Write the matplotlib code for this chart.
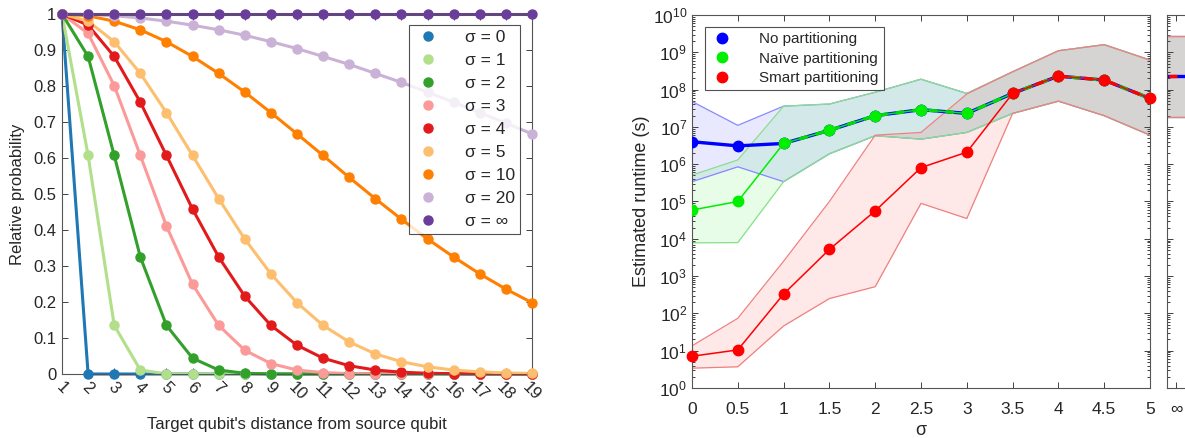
import numpy as np
import matplotlib
matplotlib.use("Agg")
import matplotlib.pyplot as plt
from matplotlib.ticker import LogLocator, NullFormatter

plt.rcParams['font.family'] = ['Liberation Sans', 'DejaVu Sans']
plt.rcParams['mathtext.fontset'] = 'custom'
plt.rcParams['mathtext.rm'] = 'Liberation Sans'
plt.rcParams['text.color'] = '#262626'
plt.rcParams['axes.labelcolor'] = '#262626'
plt.rcParams['xtick.color'] = '#404040'
plt.rcParams['ytick.color'] = '#404040'
plt.rcParams['xtick.labelcolor'] = '#262626'
plt.rcParams['ytick.labelcolor'] = '#262626'

# ---------------- Left panel data ----------------
distance = list(range(1, 20))
sigma_labels = ['σ = 0', 'σ = 1', 'σ = 2', 'σ = 3', 'σ = 4', 'σ = 5', 'σ = 10', 'σ = 20', 'σ = ∞']
sigma_colors = ['#1f78b4', '#b2df8a', '#33a02c', '#fb9a99', '#e31a1c',
                '#fdbf6f', '#ff7f00', '#cab2d6', '#6a3d9a']
p_s0 = [1, 0, 0, 0, 0, 0, 0, 0, 0, 0, 0, 0, 0, 0, 0, 0, 0, 0, 0]
p_s1 = [1, 0.607, 0.135, 0.011, 0.0003, 0, 0, 0, 0, 0, 0, 0, 0, 0, 0, 0, 0, 0, 0]
p_s2 = [1, 0.882, 0.607, 0.325, 0.135, 0.044, 0.011, 0.002, 0.0003, 0, 0, 0, 0, 0, 0, 0, 0, 0, 0]
p_s3 = [1, 0.946, 0.801, 0.607, 0.411, 0.249, 0.135, 0.066, 0.029, 0.011, 0.004, 0.001, 0.0003, 0.0001,
        0, 0, 0, 0, 0]
p_s4 = [1, 0.969, 0.882, 0.755, 0.607, 0.458, 0.325, 0.216, 0.135, 0.080, 0.044, 0.023, 0.011, 0.005,
        0.002, 0.0009, 0.0003, 0.0001, 0.00004]
p_s5 = [1, 0.980, 0.923, 0.835, 0.726, 0.607, 0.487, 0.375, 0.278, 0.198, 0.135, 0.089, 0.056, 0.034,
        0.020, 0.011, 0.006, 0.003, 0.0015]
p_s10 = [1, 0.995, 0.980, 0.956, 0.923, 0.882, 0.835, 0.783, 0.726, 0.667, 0.607, 0.546, 0.487, 0.430,
         0.375, 0.325, 0.278, 0.236, 0.198]
p_s20 = [1, 0.999, 0.995, 0.989, 0.980, 0.969, 0.956, 0.941, 0.923, 0.904, 0.882, 0.860, 0.835, 0.810,
         0.783, 0.755, 0.726, 0.697, 0.667]
p_sinf = [1] * 19
prob_series = [p_s0, p_s1, p_s2, p_s3, p_s4, p_s5, p_s10, p_s20, p_sinf]

# ---------------- Right panel data ----------------
sigma_x = [0, 0.5, 1, 1.5, 2, 2.5, 3, 3.5, 4, 4.5, 5]
sigma_ticklabels = ['0', '0.5', '1', '1.5', '2', '2.5', '3', '3.5', '4', '4.5', '5']
no_mean = [4.0e6, 3.1e6, 3.6e6, 8.1e6, 2.0e7, 2.9e7, 2.3e7, 7.9e7, 2.3e8, 1.8e8, 5.8e7]
no_lo = [3.4e5, 8.5e5, 3.4e5, 1.9e6, 5.8e6, 4.7e6, 7.1e6, 2.3e7, 4.9e7, 2.0e7, 6.0e6]
no_hi = [4.8e7, 1.1e7, 3.6e7, 4.1e7, 8.5e7, 1.9e8, 7.9e7, 3.0e8, 1.1e9, 1.6e9, 6.2e8]
naive_mean = [5.9e4, 1.0e5, 3.6e6, 8.1e6, 2.0e7, 2.9e7, 2.3e7, 7.9e7, 2.3e8, 1.8e8, 5.8e7]
naive_lo = [7.8e3, 7.9e3, 3.4e5, 1.9e6, 5.8e6, 4.7e6, 7.1e6, 2.3e7, 4.9e7, 2.0e7, 6.0e6]
naive_hi = [5.1e5, 1.3e6, 3.6e7, 4.1e7, 8.5e7, 1.9e8, 7.9e7, 3.0e8, 1.1e9, 1.6e9, 6.2e8]
smart_mean = [7.1, 10.5, 330, 5.2e3, 5.6e4, 8.1e5, 2.1e6, 7.9e7, 2.3e8, 1.8e8, 5.8e7]
smart_lo = [3.4, 3.7, 46, 250, 520, 8.9e4, 3.5e4, 2.3e7, 4.9e7, 2.0e7, 6.0e6]
smart_hi = [13.5, 74, 2.5e3, 1.0e5, 6.0e6, 7.1e6, 7.6e7, 3.0e8, 1.1e9, 1.6e9, 6.2e8]
inf_mean = 2.3e8
inf_lo = 1.9e7
inf_hi = 2.8e9
method_labels = ['No partitioning', 'Naïve partitioning', 'Smart partitioning']

W, H = 1185, 438
fig = plt.figure(figsize=(W / 100, H / 100), dpi=100)

def frac(x0, y0, x1, y1):
    return [x0 / W, 1 - y1 / H, (x1 - x0) / W, (y1 - y0) / H]

# ================= Left panel =================
ax1 = fig.add_axes(frac(62, 14, 532, 374))
for vals, col, lab in zip(prob_series, sigma_colors, sigma_labels):
    ax1.plot(distance, vals, '-', color=col, lw=2.2, zorder=2, clip_on=False)
    ax1.plot(distance, vals, 'o', color=col, ms=6.5, zorder=3, label=lab, clip_on=False)
ax1.set_xlim(1, 19)
ax1.set_ylim(0, 1)
ax1.set_xticks(distance)
ax1.set_xticklabels([str(d) for d in distance], rotation=-45, ha='center', va='top')
ax1.set_yticks(np.arange(0, 11) / 10)
ax1.set_yticklabels(['0'] + ['%.1f' % v for v in np.arange(1, 10) / 10] + ['1'])
ax1.tick_params(direction='in', top=True, right=True, labelsize=12, length=4, width=0.7, pad=4)
for s in ax1.spines.values():
    s.set_color('#555555')
    s.set_linewidth(0.8)
ax1.set_xlabel("Target qubit's distance from source qubit", fontsize=12, labelpad=10)
ax1.set_ylabel('Relative probability', fontsize=12, labelpad=6)
leg1 = ax1.legend(loc='upper right', bbox_to_anchor=(0.975, 0.97), fontsize=12.5,
                  frameon=True, fancybox=False, edgecolor='#262626', handletextpad=1.3,
                  borderpad=0.3, labelspacing=0.45, handlelength=1.6, markerscale=1.0,
                  borderaxespad=0)
leg1.get_frame().set_linewidth(0.8)
leg1.set_zorder(10)

# ================= Right panel =================
ax2 = fig.add_axes(frac(692, 15, 1150, 388))
ax3 = fig.add_axes(frac(1167, 15, 1230, 388))

series = [
    (no_mean, no_lo, no_hi, '#0000ff', method_labels[0]),
    (naive_mean, naive_lo, naive_hi, '#00ee00', method_labels[1]),
    (smart_mean, smart_lo, smart_hi, '#ff0000', method_labels[2]),
]
edge_cols = ['#8888ff', '#88e088', '#f08080']
for (m, lo, hi, col, lab), ec in zip(series, edge_cols):
    ax2.fill_between(sigma_x, lo, hi, color=col, alpha=0.09, lw=0, zorder=1)
    ax2.plot(sigma_x, lo, color=ec, lw=0.9, zorder=2)
    ax2.plot(sigma_x, hi, color=ec, lw=0.9, zorder=2)

no_arr = np.array(no_mean)
naive_arr = np.array(naive_mean)
smart_arr = np.array(smart_mean)
ax2.plot(sigma_x, no_arr, '-', color='#0000ff', lw=2.4, zorder=4)
ax2.plot(sigma_x, no_arr, 'o', color='#0000ff', ms=7.5, zorder=4, label=method_labels[0])
ax2.plot(sigma_x, naive_arr, '-', color='#00ee00', lw=1.1, zorder=5)
naive_over = np.where(np.isclose(naive_arr, no_arr), naive_arr, np.nan)
ax2.plot(sigma_x, naive_over, color='#00dd00', lw=2.4, zorder=5, dashes=(2.5, 2.5))
ax2.plot(sigma_x, naive_arr, 'o', color='#00ee00', ms=7.5, zorder=5, label=method_labels[1])
ax2.plot(sigma_x, smart_arr, '-', color='#ff0000', lw=1.1, zorder=6)
smart_over = np.where(np.isclose(smart_arr, no_arr), smart_arr, np.nan)
ax2.plot(sigma_x, smart_over, color='#ff0000', lw=2.4, zorder=6, dashes=(2.5, 5), dash_capstyle='butt')
ax2.plot(sigma_x, smart_arr, 'o', color='#ff0000', ms=7.5, zorder=6, label=method_labels[2],
         clip_on=False)

ax2.set_yscale('log')
ax2.set_ylim(1, 1e10)
ax2.set_xlim(0, 5)
ax2.set_xticks(sigma_x)
ax2.set_xticklabels(sigma_ticklabels)
ax2.yaxis.set_major_locator(LogLocator(base=10, numticks=20))
ax2.yaxis.set_minor_locator(LogLocator(base=10, subs=np.arange(2, 10), numticks=200))
ax2.yaxis.set_minor_formatter(NullFormatter())
ax2.tick_params(which='both', direction='in', top=True, right=True, labelsize=12.5, width=0.7)
ax2.tick_params(which='major', length=4)
ax2.tick_params(which='minor', length=2)
ax2.tick_params(axis='x', pad=10)
for s in ax2.spines.values():
    s.set_color('#555555')
    s.set_linewidth(0.8)
ax2.set_xlabel('σ', fontsize=13, labelpad=4)
ax2.set_ylabel('Estimated runtime (s)', fontsize=13, labelpad=2)
leg2 = ax2.legend(loc='upper left', bbox_to_anchor=(0.028, 0.968), fontsize=11,
                  frameon=True, fancybox=False, edgecolor='#262626', handletextpad=1.6,
                  borderpad=0.35, labelspacing=0.35, handlelength=1.6, borderaxespad=0)
leg2.get_frame().set_linewidth(0.8)
leg2.set_zorder(10)

# ================= infinity panel =================
inf_span = [-1, 3]
for (m, lo, hi, col, lab), ec in zip(series, edge_cols):
    ax3.fill_between(inf_span, [inf_lo, inf_lo], [inf_hi, inf_hi], color=col, alpha=0.09, lw=0)
    ax3.plot(inf_span, [inf_lo, inf_lo], color=ec, lw=0.9)
    ax3.plot(inf_span, [inf_hi, inf_hi], color=ec, lw=0.9)
ax3.plot(inf_span, [inf_mean, inf_mean], color='#0000ff', lw=2.4)
ax3.plot(inf_span, [inf_mean, inf_mean], color='#ff0000', lw=2.4, dashes=(2.5, 2.5))
ax3.set_yscale('log')
ax3.set_ylim(1, 1e10)
ax3.set_xlim(-0.375, 2.25)
ax3.set_xticks([0])
ax3.set_xticklabels(['∞'])
ax3.yaxis.set_major_locator(LogLocator(base=10, numticks=20))
ax3.yaxis.set_minor_locator(LogLocator(base=10, subs=np.arange(2, 10), numticks=200))
ax3.yaxis.set_major_formatter(NullFormatter())
ax3.yaxis.set_minor_formatter(NullFormatter())
ax3.tick_params(which='both', direction='in', top=True, right=False, labelsize=12.5, width=0.7)
ax3.tick_params(which='major', length=4)
ax3.tick_params(which='minor', length=2)
ax3.tick_params(axis='x', pad=10)
for s in ax3.spines.values():
    s.set_color('#555555')
    s.set_linewidth(0.8)
ax3.spines['right'].set_visible(False)

fig.savefig('out.png', dpi=100)
